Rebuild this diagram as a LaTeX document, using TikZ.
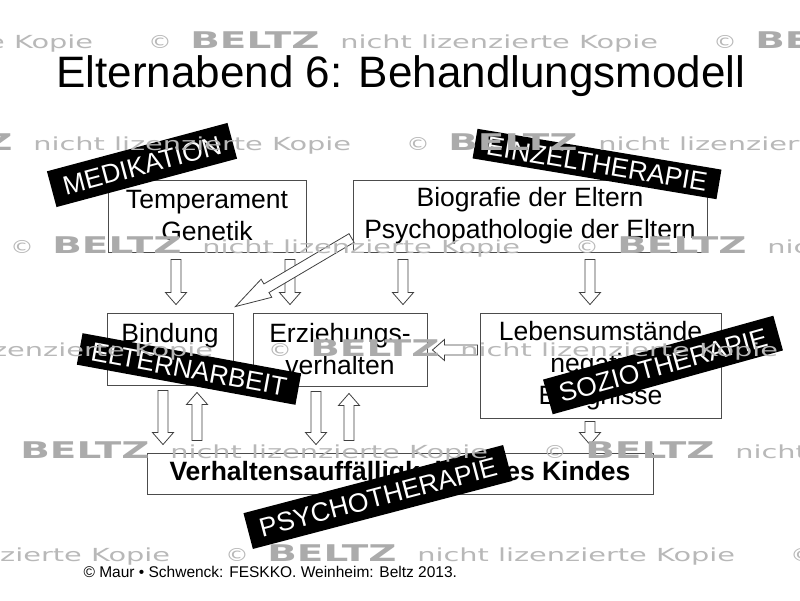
\documentclass[tikz,border=0pt]{standalone}
\usepackage{fontspec}
\setmainfont{Liberation Sans}
\newfontfamily\wmfont{DejaVu Sans}
\usetikzlibrary{calc}
\newcommand\boxfont{\fontsize{26.5}{32}\selectfont}
\newcommand\blockarrow[3][12]{%
  \coordinate (h) at ($(#3)!#1pt!(#2)$);
  \draw[blockarrow] ($(#2)!\shaftw!90:(#3)$) -- ($(h)!\shaftw!-90:(#2)$) -- ($(h)!\headw!-90:(#2)$) -- (#3)
    -- ($(h)!\headw!90:(#2)$) -- ($(h)!\shaftw!90:(#2)$) -- ($(#2)!\shaftw!-90:(#3)$) -- cycle;}
\newcommand\wmrow[2]{%
  \foreach \k in {-1,0,1}{
    \pgfmathsetmacro\wx{#2+565*\k}
    \node[wmark, xscale=1.3, anchor=base west] (wmc#1\k) at (\wx,#1) {©};
    \node[wmark, beltz, anchor=base west] (wmb#1\k) at (\wx+42,#1) {BELTZ};
    \node[wmark, xscale=1.6, anchor=base west] (wmt#1\k) at (\wx+192,#1) {nicht lizenzierte Kopie};
  }}
\tikzset{
  box/.style={draw=black!70, line width=0.9pt, align=center, font=\boxfont, inner sep=0pt},
  band/.style={fill=black, text=white, font=\boxfont, inner xsep=12pt, inner ysep=0pt, text height=19pt, text depth=0pt},
  blockarrow/.style={draw=black!75, fill=white, line width=0.8pt, line join=miter},
  wmark/.style={font=\wmfont\fontsize{18}{20}\selectfont, text=black!28, inner sep=0pt},
  beltz/.style={font=\wmfont\bfseries\fontsize{23}{25}\selectfont, text=black!33, xscale=1.69}
}
\begin{document}
\begin{tikzpicture}[x=1pt,y=-1pt]
\useasboundingbox (0,0) rectangle (800,600);
\clip (0,0) rectangle (800,600);
\pgfmathsetlengthmacro{\shaftw}{5pt}
\pgfmathsetlengthmacro{\headw}{10.5pt}

\node[anchor=base, font=\fontsize{44}{50}\selectfont] (title) at (401,87) {Elternabend 6: Behandlungsmodell};

\node[box, minimum width=198pt, minimum height=72pt] (temp) at (207,216) {Temperament\\Genetik};
\node[box, minimum width=354pt, minimum height=72pt] (bio) at (530,216) {Biografie der Eltern\\Psychopathologie der Eltern};
\node[box, minimum width=126pt, minimum height=72pt] (bind) at (170,349) {Bindung\\\mbox{}};
\node[box, minimum width=174pt, minimum height=73pt] (erz) at (340,349.5) {Erziehungs-\\verhalten};
\node[box, minimum width=241pt, minimum height=105pt] (leb) at (600.5,365.5) {Lebensumstände\\negative\\Ereignisse};
\node[box, minimum width=506pt, minimum height=41pt, font=\boxfont\bfseries] (verh) at (400,473.5) {Verhaltensauffälligkeiten des Kindes};

\coordinate (a1) at ($(temp.south)+(-31,7)$);
\coordinate (b1) at ($(bind.north)+(6,-8)$);
\coordinate (a2) at ($(temp.south)+(83,7)$);
\coordinate (b2) at ($(erz.north)+(-50,-8)$);
\coordinate (a3) at ($(bio.south)+(-127,7)$);
\coordinate (b3) at ($(erz.north)+(63,-8)$);
\coordinate (a4) at ($(bio.south)+(60,7)$);
\coordinate (b4) at ($(leb.north)+(-10.5,-8)$);
\coordinate (a5) at ($(bio.west)+(-1,22)$);
\coordinate (b5) at ($(bind.north east)+(2,-6)$);
\coordinate (a6) at ($(bind.south)+(-7,5)$);
\coordinate (b6) at ($(verh.north)+(-237,-8)$);
\coordinate (a7) at ($(verh.north)+(-203,-12)$);
\coordinate (b7) at ($(bind.south)+(27,7)$);
\coordinate (a8) at ($(erz.south)+(-24,5)$);
\coordinate (b8) at ($(verh.north)+(-84,-8)$);
\coordinate (a9) at ($(verh.north)+(-51,-12)$);
\coordinate (b9) at ($(erz.south)+(9,7)$);
\coordinate (a10) at ($(leb.south)+(-10.5,3)$);
\coordinate (b10) at ($(verh.north)+(190,-8)$);
\coordinate (a11) at ($(leb.west)+(-2,-15.5)$);
\coordinate (b11) at ($(erz.east)+(5,0.5)$);
\foreach \i in {1,2,3,4,6,7,8,9,10,11}
  \blockarrow{a\i}{b\i};
\blockarrow[36]{a5}{b5}

\node[band, minimum height=37pt, rotate=15] (med) at (142,165) {MEDIKATION};
\node[band, minimum height=30pt, rotate=-9.5] (einzel) at (597,164) {EINZELTHERAPIE};
\node[band, minimum height=32pt, rotate=-10.4] (eltern) at (189,369) {ELTERNARBEIT};
\node[band, minimum height=36pt, rotate=15.5] (sozio) at (663,365) {SOZIOTHERAPIE};
\node[band, minimum height=37pt, rotate=14.7] (psycho) at (378,497) {PSYCHOTHERAPIE};

\wmrow{48}{148}
\wmrow{150.5}{406}
\wmrow{253}{10}
\wmrow{356}{268}
\wmrow{458.5}{-22}
\wmrow{561}{225}

\node[anchor=base west, font=\fontsize{15.5}{18}\selectfont] (src) at (80,577) {© Maur • Schwenck: FESKKO. Weinheim: Beltz 2013.};
\end{tikzpicture}
\end{document}
